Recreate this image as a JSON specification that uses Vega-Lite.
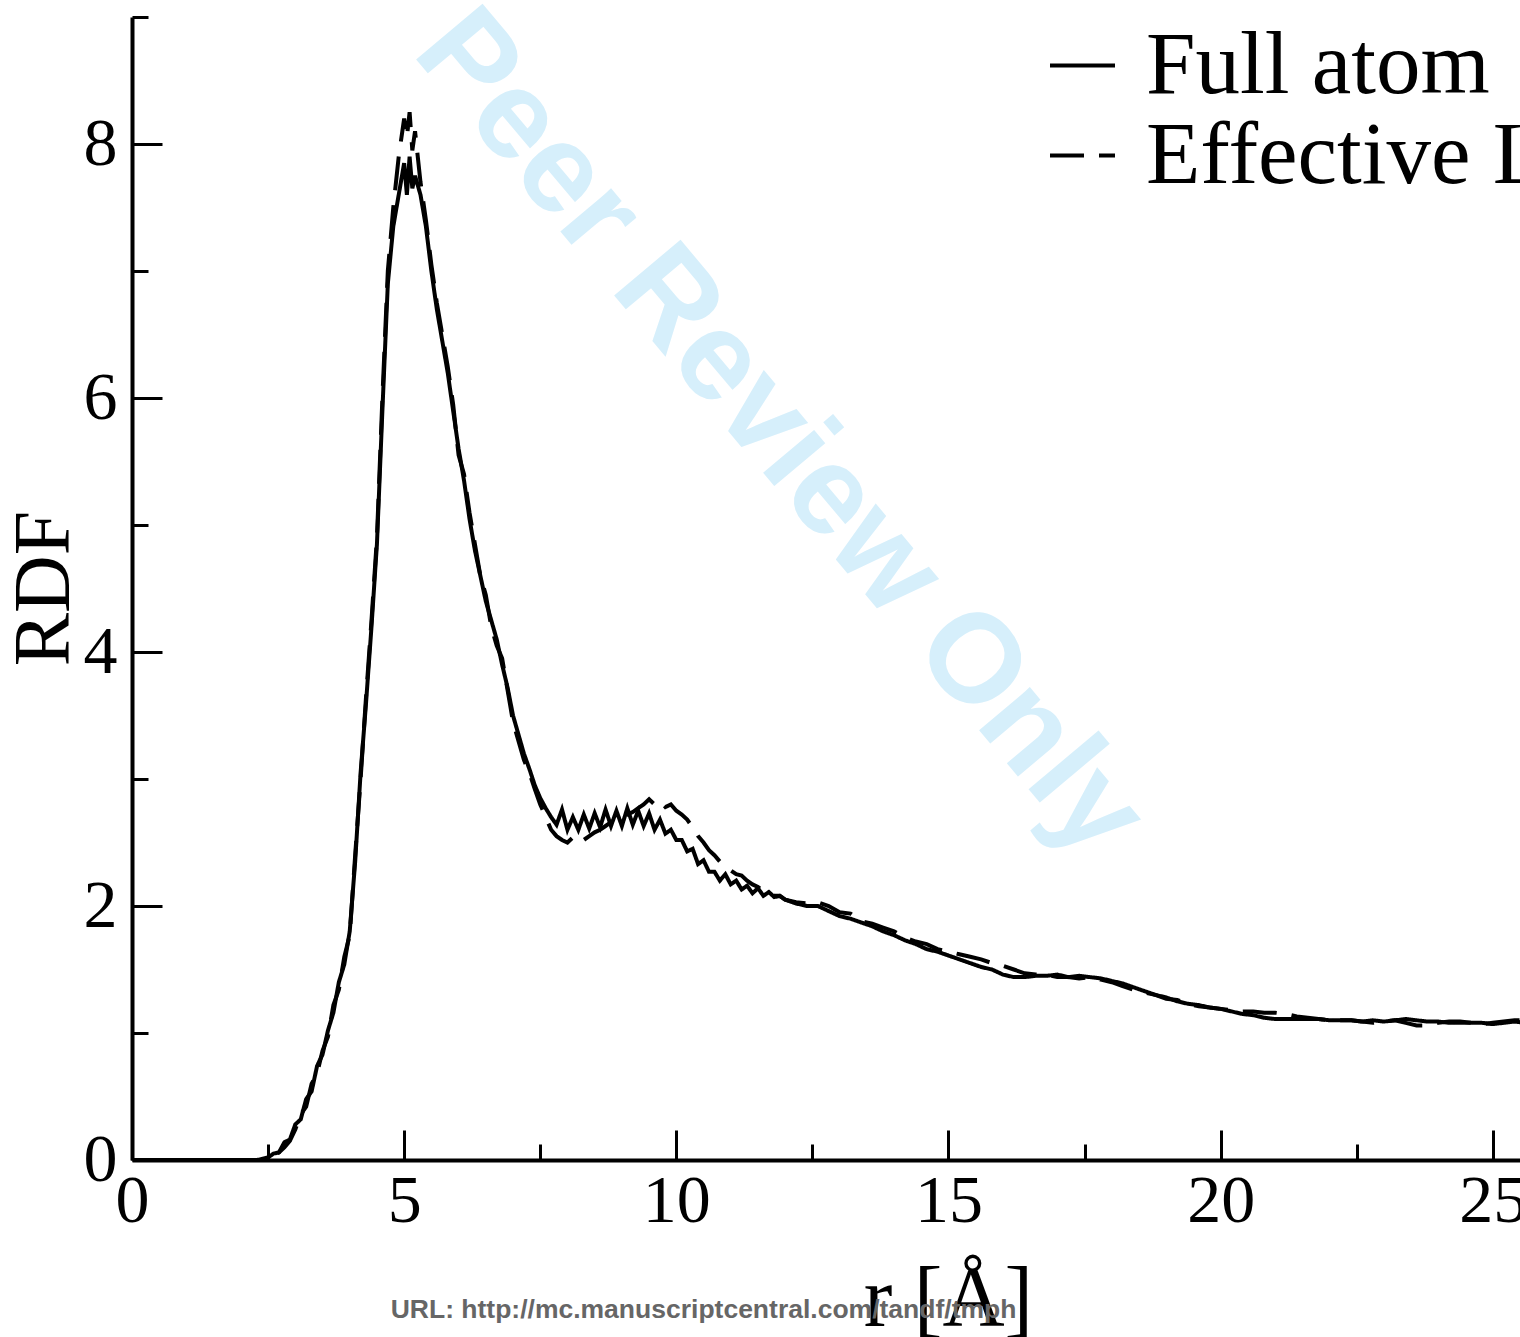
{
  "$schema": "https://vega.github.io/schema/vega-lite/v6.json",
  "autosize": {"type": "none"},
  "padding": {"left": 132, "top": 17, "right": 0, "bottom": 177},
  "width": 1388,
  "height": 1143,
  "background": "white",
  "config": {"view": {"stroke": null}},
  "resolve": {"axis": {"x": "independent", "y": "independent"}},
  "layer": [
    {
      "data": {"values": [{"label": "Peer Review Only"}]},
      "mark": {"type": "text", "font": "Liberation Sans", "fontWeight": "bold", "fontSize": 126, "angle": 50, "align": "center", "baseline": "middle", "color": "#d6effb"},
      "encoding": {
        "text": {"field": "label"},
        "x": {"datum": 11.9, "type": "quantitative", "scale": {"domain": [0, 25.5], "nice": false, "zero": false},
          "axis": {"orient": "bottom", "values": [2.5, 7.5, 12.5, 17.5, 22.5], "labels": false, "domain": false, "grid": false, "title": null, "tickSize": -16, "tickWidth": 3, "tickColor": "black"}},
        "y": {"datum": 5.72, "type": "quantitative", "scale": {"domain": [0, 9], "nice": false, "zero": false},
          "axis": {"orient": "left", "values": [1, 3, 5, 7, 9], "labels": false, "domain": false, "grid": false, "title": null, "tickSize": -16, "tickWidth": 3, "tickColor": "black"}}
      }
    },
    {
      "data": {"values": [{"label": "URL: http://mc.manuscriptcentral.com/tandf/tmph"}]},
      "mark": {"type": "text", "font": "Liberation Sans", "fontWeight": "bold", "fontSize": 26.5, "align": "center", "baseline": "middle", "color": "#666666"},
      "encoding": {
        "text": {"field": "label"},
        "x": {"datum": 10.5, "type": "quantitative", "scale": {"domain": [0, 25.5], "nice": false, "zero": false}, "axis": null},
        "y": {"datum": -1.18, "type": "quantitative", "scale": {"domain": [0, 9], "nice": false, "zero": false}, "axis": null}
      }
    },
    {
      "data": {"values": [
        {"r":0,"g":0,"series":"Full atom"},{"r":1,"g":0,"series":"Full atom"},{"r":2,"g":0,"series":"Full atom"},{"r":2.3,"g":0,"series":"Full atom"},
        {"r":2.4,"g":0.01,"series":"Full atom"},{"r":2.5,"g":0.02,"series":"Full atom"},{"r":2.6,"g":0.05,"series":"Full atom"},{"r":2.7,"g":0.06,"series":"Full atom"},
        {"r":2.8,"g":0.14,"series":"Full atom"},{"r":2.9,"g":0.16,"series":"Full atom"},{"r":3.0,"g":0.28,"series":"Full atom"},{"r":3.1,"g":0.32,"series":"Full atom"},
        {"r":3.2,"g":0.48,"series":"Full atom"},{"r":3.3,"g":0.54,"series":"Full atom"},{"r":3.4,"g":0.74,"series":"Full atom"},{"r":3.5,"g":0.83,"series":"Full atom"},
        {"r":3.6,"g":1.02,"series":"Full atom"},{"r":3.7,"g":1.16,"series":"Full atom"},{"r":3.8,"g":1.4,"series":"Full atom"},{"r":3.9,"g":1.54,"series":"Full atom"},
        {"r":4.0,"g":1.8,"series":"Full atom"},{"r":4.1,"g":2.35,"series":"Full atom"},{"r":4.2,"g":3.05,"series":"Full atom"},{"r":4.3,"g":3.6,"series":"Full atom"},
        {"r":4.4,"g":4.2,"series":"Full atom"},{"r":4.5,"g":4.85,"series":"Full atom"},{"r":4.6,"g":5.9,"series":"Full atom"},{"r":4.7,"g":6.9,"series":"Full atom"},
        {"r":4.8,"g":7.35,"series":"Full atom"},{"r":4.9,"g":7.6,"series":"Full atom"},{"r":5.0,"g":7.85,"series":"Full atom"},{"r":5.05,"g":7.6,"series":"Full atom"},
        {"r":5.1,"g":7.9,"series":"Full atom"},{"r":5.15,"g":7.65,"series":"Full atom"},{"r":5.2,"g":7.75,"series":"Full atom"},{"r":5.3,"g":7.6,"series":"Full atom"},
        {"r":5.4,"g":7.35,"series":"Full atom"},{"r":5.5,"g":7.0,"series":"Full atom"},{"r":5.6,"g":6.7,"series":"Full atom"},{"r":5.7,"g":6.45,"series":"Full atom"},
        {"r":5.8,"g":6.2,"series":"Full atom"},{"r":5.9,"g":5.9,"series":"Full atom"},{"r":6.0,"g":5.6,"series":"Full atom"},{"r":6.1,"g":5.35,"series":"Full atom"},
        {"r":6.2,"g":5.05,"series":"Full atom"},{"r":6.3,"g":4.8,"series":"Full atom"},{"r":6.4,"g":4.6,"series":"Full atom"},{"r":6.5,"g":4.4,"series":"Full atom"},
        {"r":6.6,"g":4.25,"series":"Full atom"},{"r":6.7,"g":4.1,"series":"Full atom"},{"r":6.8,"g":3.9,"series":"Full atom"},{"r":6.9,"g":3.72,"series":"Full atom"},
        {"r":7.0,"g":3.5,"series":"Full atom"},{"r":7.1,"g":3.35,"series":"Full atom"},{"r":7.2,"g":3.2,"series":"Full atom"},{"r":7.3,"g":3.08,"series":"Full atom"},
        {"r":7.4,"g":2.95,"series":"Full atom"},{"r":7.5,"g":2.85,"series":"Full atom"},{"r":7.6,"g":2.77,"series":"Full atom"},{"r":7.7,"g":2.7,"series":"Full atom"},
        {"r":7.8,"g":2.64,"series":"Full atom"},{"r":7.9,"g":2.76,"series":"Full atom"},{"r":8.0,"g":2.6,"series":"Full atom"},{"r":8.1,"g":2.7,"series":"Full atom"},
        {"r":8.2,"g":2.6,"series":"Full atom"},{"r":8.3,"g":2.72,"series":"Full atom"},{"r":8.4,"g":2.61,"series":"Full atom"},{"r":8.5,"g":2.73,"series":"Full atom"},
        {"r":8.6,"g":2.62,"series":"Full atom"},{"r":8.7,"g":2.76,"series":"Full atom"},{"r":8.8,"g":2.63,"series":"Full atom"},{"r":8.9,"g":2.75,"series":"Full atom"},
        {"r":9.0,"g":2.63,"series":"Full atom"},{"r":9.1,"g":2.77,"series":"Full atom"},{"r":9.2,"g":2.64,"series":"Full atom"},{"r":9.3,"g":2.75,"series":"Full atom"},
        {"r":9.4,"g":2.63,"series":"Full atom"},{"r":9.5,"g":2.73,"series":"Full atom"},{"r":9.6,"g":2.6,"series":"Full atom"},{"r":9.7,"g":2.68,"series":"Full atom"},
        {"r":9.8,"g":2.57,"series":"Full atom"},{"r":9.9,"g":2.6,"series":"Full atom"},{"r":10.0,"g":2.52,"series":"Full atom"},{"r":10.1,"g":2.52,"series":"Full atom"},
        {"r":10.2,"g":2.43,"series":"Full atom"},{"r":10.3,"g":2.45,"series":"Full atom"},{"r":10.4,"g":2.33,"series":"Full atom"},{"r":10.5,"g":2.36,"series":"Full atom"},
        {"r":10.6,"g":2.27,"series":"Full atom"},{"r":10.7,"g":2.27,"series":"Full atom"},{"r":10.8,"g":2.2,"series":"Full atom"},{"r":10.9,"g":2.25,"series":"Full atom"},
        {"r":11.0,"g":2.17,"series":"Full atom"},{"r":11.1,"g":2.2,"series":"Full atom"},{"r":11.2,"g":2.13,"series":"Full atom"},{"r":11.3,"g":2.16,"series":"Full atom"},
        {"r":11.4,"g":2.1,"series":"Full atom"},{"r":11.5,"g":2.14,"series":"Full atom"},{"r":11.6,"g":2.08,"series":"Full atom"},{"r":11.7,"g":2.11,"series":"Full atom"},
        {"r":11.8,"g":2.07,"series":"Full atom"},{"r":11.9,"g":2.08,"series":"Full atom"},{"r":12.0,"g":2.05,"series":"Full atom"},{"r":12.2,"g":2.02,"series":"Full atom"},
        {"r":12.4,"g":2.0,"series":"Full atom"},{"r":12.6,"g":2.0,"series":"Full atom"},{"r":12.8,"g":1.96,"series":"Full atom"},{"r":13.0,"g":1.92,"series":"Full atom"},
        {"r":13.2,"g":1.9,"series":"Full atom"},{"r":13.4,"g":1.87,"series":"Full atom"},{"r":13.6,"g":1.84,"series":"Full atom"},{"r":13.8,"g":1.8,"series":"Full atom"},
        {"r":14.0,"g":1.77,"series":"Full atom"},{"r":14.2,"g":1.73,"series":"Full atom"},{"r":14.4,"g":1.7,"series":"Full atom"},{"r":14.6,"g":1.66,"series":"Full atom"},
        {"r":14.8,"g":1.64,"series":"Full atom"},{"r":15.0,"g":1.61,"series":"Full atom"},{"r":15.2,"g":1.58,"series":"Full atom"},{"r":15.4,"g":1.55,"series":"Full atom"},
        {"r":15.6,"g":1.52,"series":"Full atom"},{"r":15.8,"g":1.5,"series":"Full atom"},{"r":16.0,"g":1.46,"series":"Full atom"},{"r":16.2,"g":1.44,"series":"Full atom"},
        {"r":16.4,"g":1.44,"series":"Full atom"},{"r":16.6,"g":1.45,"series":"Full atom"},{"r":16.8,"g":1.45,"series":"Full atom"},{"r":17.0,"g":1.46,"series":"Full atom"},
        {"r":17.2,"g":1.44,"series":"Full atom"},{"r":17.4,"g":1.45,"series":"Full atom"},{"r":17.6,"g":1.44,"series":"Full atom"},{"r":17.8,"g":1.43,"series":"Full atom"},
        {"r":18.0,"g":1.41,"series":"Full atom"},{"r":18.2,"g":1.39,"series":"Full atom"},{"r":18.4,"g":1.36,"series":"Full atom"},{"r":18.6,"g":1.33,"series":"Full atom"},
        {"r":18.8,"g":1.3,"series":"Full atom"},{"r":19.0,"g":1.28,"series":"Full atom"},{"r":19.2,"g":1.25,"series":"Full atom"},{"r":19.4,"g":1.23,"series":"Full atom"},
        {"r":19.6,"g":1.22,"series":"Full atom"},{"r":19.8,"g":1.2,"series":"Full atom"},{"r":20.0,"g":1.19,"series":"Full atom"},{"r":20.2,"g":1.17,"series":"Full atom"},
        {"r":20.4,"g":1.15,"series":"Full atom"},{"r":20.6,"g":1.14,"series":"Full atom"},{"r":20.8,"g":1.12,"series":"Full atom"},{"r":21.0,"g":1.11,"series":"Full atom"},
        {"r":21.2,"g":1.11,"series":"Full atom"},{"r":21.4,"g":1.11,"series":"Full atom"},{"r":21.6,"g":1.11,"series":"Full atom"},{"r":21.8,"g":1.11,"series":"Full atom"},
        {"r":22.0,"g":1.1,"series":"Full atom"},{"r":22.2,"g":1.1,"series":"Full atom"},{"r":22.4,"g":1.1,"series":"Full atom"},{"r":22.6,"g":1.09,"series":"Full atom"},
        {"r":22.8,"g":1.1,"series":"Full atom"},{"r":23.0,"g":1.09,"series":"Full atom"},{"r":23.2,"g":1.1,"series":"Full atom"},{"r":23.4,"g":1.11,"series":"Full atom"},
        {"r":23.6,"g":1.1,"series":"Full atom"},{"r":23.8,"g":1.09,"series":"Full atom"},{"r":24.0,"g":1.09,"series":"Full atom"},{"r":24.2,"g":1.08,"series":"Full atom"},
        {"r":24.4,"g":1.08,"series":"Full atom"},{"r":24.6,"g":1.08,"series":"Full atom"},{"r":24.8,"g":1.08,"series":"Full atom"},{"r":25.0,"g":1.07,"series":"Full atom"},
        {"r":25.2,"g":1.08,"series":"Full atom"},{"r":25.4,"g":1.09,"series":"Full atom"},{"r":25.6,"g":1.08,"series":"Full atom"},

        {"r":0,"g":0,"series":"Effective LJ"},{"r":1,"g":0,"series":"Effective LJ"},{"r":2,"g":0,"series":"Effective LJ"},{"r":2.3,"g":0,"series":"Effective LJ"},
        {"r":2.4,"g":0.0,"series":"Effective LJ"},{"r":2.5,"g":0.01,"series":"Effective LJ"},{"r":2.6,"g":0.03,"series":"Effective LJ"},{"r":2.7,"g":0.06,"series":"Effective LJ"},
        {"r":2.8,"g":0.1,"series":"Effective LJ"},{"r":2.9,"g":0.15,"series":"Effective LJ"},{"r":3.0,"g":0.24,"series":"Effective LJ"},{"r":3.1,"g":0.36,"series":"Effective LJ"},
        {"r":3.2,"g":0.42,"series":"Effective LJ"},{"r":3.3,"g":0.6,"series":"Effective LJ"},{"r":3.4,"g":0.68,"series":"Effective LJ"},{"r":3.5,"g":0.86,"series":"Effective LJ"},
        {"r":3.6,"g":0.97,"series":"Effective LJ"},{"r":3.7,"g":1.22,"series":"Effective LJ"},{"r":3.8,"g":1.34,"series":"Effective LJ"},{"r":3.9,"g":1.6,"series":"Effective LJ"},
        {"r":4.0,"g":1.77,"series":"Effective LJ"},{"r":4.1,"g":2.4,"series":"Effective LJ"},{"r":4.2,"g":3.0,"series":"Effective LJ"},{"r":4.3,"g":3.65,"series":"Effective LJ"},
        {"r":4.4,"g":4.25,"series":"Effective LJ"},{"r":4.5,"g":4.9,"series":"Effective LJ"},{"r":4.6,"g":6.0,"series":"Effective LJ"},{"r":4.7,"g":7.0,"series":"Effective LJ"},
        {"r":4.8,"g":7.5,"series":"Effective LJ"},{"r":4.9,"g":7.9,"series":"Effective LJ"},{"r":5.0,"g":8.2,"series":"Effective LJ"},{"r":5.05,"g":8.05,"series":"Effective LJ"},
        {"r":5.1,"g":8.25,"series":"Effective LJ"},{"r":5.15,"g":7.95,"series":"Effective LJ"},{"r":5.2,"g":8.1,"series":"Effective LJ"},{"r":5.3,"g":7.7,"series":"Effective LJ"},
        {"r":5.4,"g":7.4,"series":"Effective LJ"},{"r":5.5,"g":7.05,"series":"Effective LJ"},{"r":5.6,"g":6.75,"series":"Effective LJ"},{"r":5.7,"g":6.5,"series":"Effective LJ"},
        {"r":5.8,"g":6.25,"series":"Effective LJ"},{"r":5.9,"g":5.95,"series":"Effective LJ"},{"r":6.0,"g":5.55,"series":"Effective LJ"},{"r":6.1,"g":5.4,"series":"Effective LJ"},
        {"r":6.2,"g":5.1,"series":"Effective LJ"},{"r":6.3,"g":4.85,"series":"Effective LJ"},{"r":6.4,"g":4.6,"series":"Effective LJ"},{"r":6.5,"g":4.45,"series":"Effective LJ"},
        {"r":6.6,"g":4.2,"series":"Effective LJ"},{"r":6.7,"g":4.05,"series":"Effective LJ"},{"r":6.8,"g":3.95,"series":"Effective LJ"},{"r":6.9,"g":3.7,"series":"Effective LJ"},
        {"r":7.0,"g":3.45,"series":"Effective LJ"},{"r":7.1,"g":3.3,"series":"Effective LJ"},{"r":7.2,"g":3.15,"series":"Effective LJ"},{"r":7.3,"g":3.05,"series":"Effective LJ"},
        {"r":7.4,"g":2.92,"series":"Effective LJ"},{"r":7.5,"g":2.8,"series":"Effective LJ"},{"r":7.6,"g":2.7,"series":"Effective LJ"},{"r":7.7,"g":2.6,"series":"Effective LJ"},
        {"r":7.8,"g":2.55,"series":"Effective LJ"},{"r":7.9,"g":2.52,"series":"Effective LJ"},{"r":8.0,"g":2.5,"series":"Effective LJ"},{"r":8.1,"g":2.54,"series":"Effective LJ"},
        {"r":8.2,"g":2.5,"series":"Effective LJ"},{"r":8.3,"g":2.52,"series":"Effective LJ"},{"r":8.4,"g":2.55,"series":"Effective LJ"},{"r":8.5,"g":2.58,"series":"Effective LJ"},
        {"r":8.6,"g":2.6,"series":"Effective LJ"},{"r":8.7,"g":2.63,"series":"Effective LJ"},{"r":8.8,"g":2.66,"series":"Effective LJ"},{"r":8.9,"g":2.68,"series":"Effective LJ"},
        {"r":9.0,"g":2.7,"series":"Effective LJ"},{"r":9.1,"g":2.72,"series":"Effective LJ"},{"r":9.2,"g":2.74,"series":"Effective LJ"},{"r":9.3,"g":2.77,"series":"Effective LJ"},
        {"r":9.4,"g":2.8,"series":"Effective LJ"},{"r":9.5,"g":2.84,"series":"Effective LJ"},{"r":9.6,"g":2.8,"series":"Effective LJ"},{"r":9.7,"g":2.83,"series":"Effective LJ"},
        {"r":9.8,"g":2.78,"series":"Effective LJ"},{"r":9.9,"g":2.8,"series":"Effective LJ"},{"r":10.0,"g":2.75,"series":"Effective LJ"},{"r":10.1,"g":2.72,"series":"Effective LJ"},
        {"r":10.2,"g":2.68,"series":"Effective LJ"},{"r":10.3,"g":2.62,"series":"Effective LJ"},{"r":10.4,"g":2.55,"series":"Effective LJ"},{"r":10.5,"g":2.5,"series":"Effective LJ"},
        {"r":10.6,"g":2.44,"series":"Effective LJ"},{"r":10.7,"g":2.4,"series":"Effective LJ"},{"r":10.8,"g":2.35,"series":"Effective LJ"},{"r":10.9,"g":2.32,"series":"Effective LJ"},
        {"r":11.0,"g":2.28,"series":"Effective LJ"},{"r":11.1,"g":2.25,"series":"Effective LJ"},{"r":11.2,"g":2.24,"series":"Effective LJ"},{"r":11.3,"g":2.2,"series":"Effective LJ"},
        {"r":11.4,"g":2.17,"series":"Effective LJ"},{"r":11.5,"g":2.15,"series":"Effective LJ"},{"r":11.6,"g":2.12,"series":"Effective LJ"},{"r":11.7,"g":2.1,"series":"Effective LJ"},
        {"r":11.8,"g":2.08,"series":"Effective LJ"},{"r":11.9,"g":2.08,"series":"Effective LJ"},{"r":12.0,"g":2.05,"series":"Effective LJ"},{"r":12.2,"g":2.03,"series":"Effective LJ"},
        {"r":12.4,"g":2.02,"series":"Effective LJ"},{"r":12.6,"g":2.03,"series":"Effective LJ"},{"r":12.8,"g":2.0,"series":"Effective LJ"},{"r":13.0,"g":1.95,"series":"Effective LJ"},
        {"r":13.2,"g":1.94,"series":"Effective LJ"},{"r":13.4,"g":1.88,"series":"Effective LJ"},{"r":13.6,"g":1.86,"series":"Effective LJ"},{"r":13.8,"g":1.83,"series":"Effective LJ"},
        {"r":14.0,"g":1.8,"series":"Effective LJ"},{"r":14.2,"g":1.75,"series":"Effective LJ"},{"r":14.4,"g":1.72,"series":"Effective LJ"},{"r":14.6,"g":1.7,"series":"Effective LJ"},
        {"r":14.8,"g":1.66,"series":"Effective LJ"},{"r":15.0,"g":1.64,"series":"Effective LJ"},{"r":15.2,"g":1.62,"series":"Effective LJ"},{"r":15.4,"g":1.6,"series":"Effective LJ"},
        {"r":15.6,"g":1.58,"series":"Effective LJ"},{"r":15.8,"g":1.55,"series":"Effective LJ"},{"r":16.0,"g":1.53,"series":"Effective LJ"},{"r":16.2,"g":1.5,"series":"Effective LJ"},
        {"r":16.4,"g":1.47,"series":"Effective LJ"},{"r":16.6,"g":1.46,"series":"Effective LJ"},{"r":16.8,"g":1.46,"series":"Effective LJ"},{"r":17.0,"g":1.44,"series":"Effective LJ"},
        {"r":17.2,"g":1.44,"series":"Effective LJ"},{"r":17.4,"g":1.43,"series":"Effective LJ"},{"r":17.6,"g":1.44,"series":"Effective LJ"},{"r":17.8,"g":1.42,"series":"Effective LJ"},
        {"r":18.0,"g":1.4,"series":"Effective LJ"},{"r":18.2,"g":1.37,"series":"Effective LJ"},{"r":18.4,"g":1.34,"series":"Effective LJ"},{"r":18.6,"g":1.32,"series":"Effective LJ"},
        {"r":18.8,"g":1.3,"series":"Effective LJ"},{"r":19.0,"g":1.27,"series":"Effective LJ"},{"r":19.2,"g":1.26,"series":"Effective LJ"},{"r":19.4,"g":1.23,"series":"Effective LJ"},
        {"r":19.6,"g":1.21,"series":"Effective LJ"},{"r":19.8,"g":1.2,"series":"Effective LJ"},{"r":20.0,"g":1.19,"series":"Effective LJ"},{"r":20.2,"g":1.18,"series":"Effective LJ"},
        {"r":20.4,"g":1.17,"series":"Effective LJ"},{"r":20.6,"g":1.17,"series":"Effective LJ"},{"r":20.8,"g":1.16,"series":"Effective LJ"},{"r":21.0,"g":1.16,"series":"Effective LJ"},
        {"r":21.2,"g":1.15,"series":"Effective LJ"},{"r":21.4,"g":1.13,"series":"Effective LJ"},{"r":21.6,"g":1.12,"series":"Effective LJ"},{"r":21.8,"g":1.11,"series":"Effective LJ"},
        {"r":22.0,"g":1.1,"series":"Effective LJ"},{"r":22.2,"g":1.1,"series":"Effective LJ"},{"r":22.4,"g":1.1,"series":"Effective LJ"},{"r":22.6,"g":1.09,"series":"Effective LJ"},
        {"r":22.8,"g":1.08,"series":"Effective LJ"},{"r":23.0,"g":1.09,"series":"Effective LJ"},{"r":23.2,"g":1.1,"series":"Effective LJ"},{"r":23.4,"g":1.08,"series":"Effective LJ"},
        {"r":23.6,"g":1.06,"series":"Effective LJ"},{"r":23.8,"g":1.06,"series":"Effective LJ"},{"r":24.0,"g":1.08,"series":"Effective LJ"},{"r":24.2,"g":1.09,"series":"Effective LJ"},
        {"r":24.4,"g":1.09,"series":"Effective LJ"},{"r":24.6,"g":1.08,"series":"Effective LJ"},{"r":24.8,"g":1.07,"series":"Effective LJ"},{"r":25.0,"g":1.08,"series":"Effective LJ"},
        {"r":25.2,"g":1.09,"series":"Effective LJ"},{"r":25.4,"g":1.1,"series":"Effective LJ"},{"r":25.6,"g":1.1,"series":"Effective LJ"}
      ]},
      "mark": {"type": "line", "color": "black", "strokeWidth": 4, "clip": true, "interpolate": "linear"},
      "encoding": {
        "x": {"field": "r", "type": "quantitative", "scale": {"domain": [0, 25.5], "nice": false, "zero": false},
          "axis": {"orient": "bottom", "values": [0, 5, 10, 15, 20, 25], "grid": false, "domainColor": "black", "domainWidth": 4, "tickColor": "black", "tickWidth": 3, "tickSize": -30,
            "labelPadding": 37, "labelFont": "Liberation Serif", "labelFontSize": 68, "labelColor": "black", "labelFlush": false, "labelOverlap": false,
            "title": "r [Å]", "titleFont": "Liberation Serif", "titleFontSize": 86, "titleFontWeight": "normal", "titleColor": "black", "titleX": 816, "titleY": 165, "titleBaseline": "alphabetic", "titleAlign": "center"}},
        "y": {"field": "g", "type": "quantitative", "scale": {"domain": [0, 9], "nice": false, "zero": false},
          "axis": {"orient": "left", "values": [0, 2, 4, 6, 8], "grid": false, "domainColor": "black", "domainWidth": 4, "tickColor": "black", "tickWidth": 3, "tickSize": -30,
            "labelPadding": 45, "labelFont": "Liberation Serif", "labelFontSize": 68, "labelColor": "black", "labelFlush": false, "labelOverlap": false,
            "title": "RDF", "titleFont": "Liberation Serif", "titleFontSize": 80, "titleFontWeight": "normal", "titleColor": "black", "titleAngle": -90, "titleX": -64, "titleY": 571, "titleBaseline": "alphabetic", "titleAlign": "center"}},
        "strokeDash": {"field": "series", "type": "nominal",
          "scale": {"domain": ["Full atom", "Effective LJ"], "range": [[1, 0], [34, 15]]},
          "legend": {"orient": "none", "legendX": 906, "legendY": 4, "title": null, "padding": 0, "rowPadding": -26,
            "symbolType": "stroke", "symbolSize": 4225, "symbolStrokeWidth": 4, "symbolStrokeColor": "black",
            "labelFont": "Liberation Serif", "labelFontSize": 89, "labelColor": "black", "labelLimit": 0, "labelOffset": 19}}
      }
    }
  ]
}
